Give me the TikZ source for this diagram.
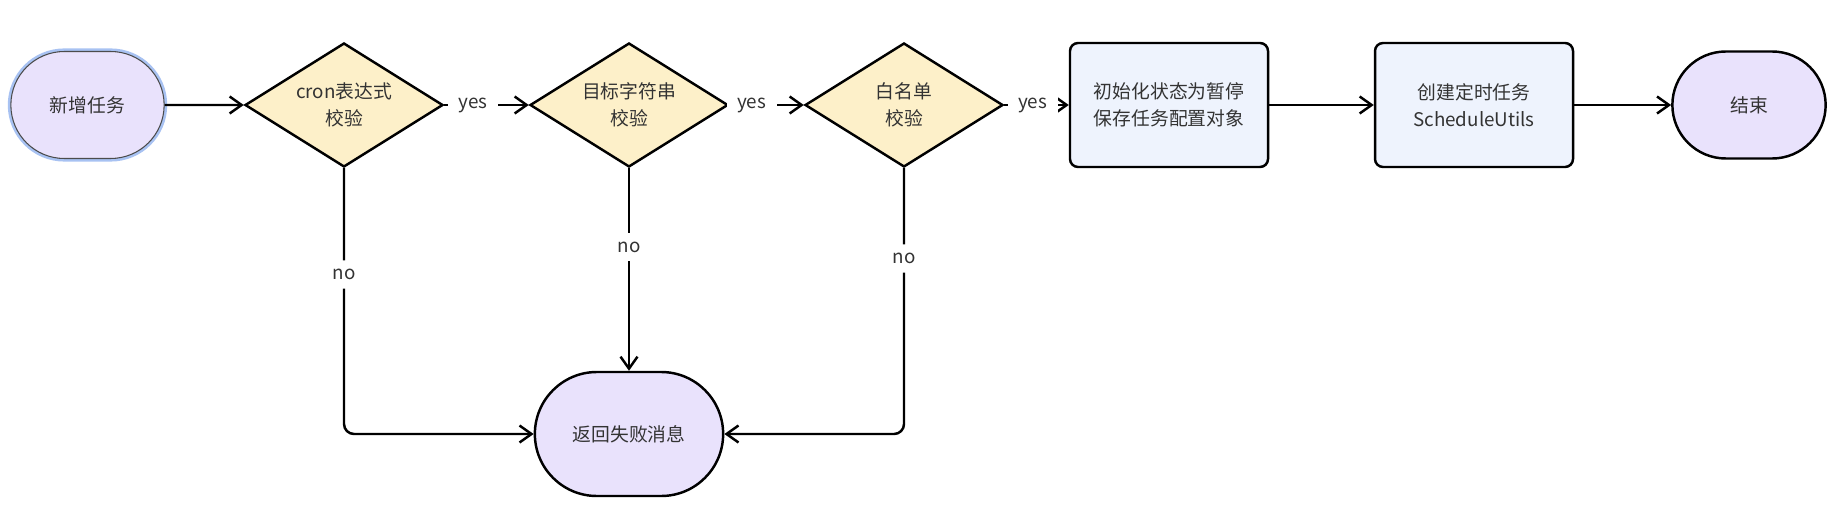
\documentclass[tikz,border=0pt]{standalone}
\usepackage{fontspec}
\setmainfont{Noto Sans CJK SC}
\usepackage{xcolor}
\usepackage{tikz}
\usetikzlibrary{shapes.geometric,shapes.misc,arrows.meta}
\definecolor{termfill}{HTML}{E9E2FC}
\definecolor{checkfill}{HTML}{FDF0C9}
\definecolor{procfill}{HTML}{EEF3FD}
\definecolor{halo}{HTML}{A8C2F2}
\definecolor{txt}{HTML}{333333}
\tikzstyle{arrow} = [-{Straight Barb[length=2.4mm,width=3.4mm]}, line width=1.4pt]
\tikzstyle{terminal} = [rounded rectangle, draw=black, line width=1.4pt, fill=termfill, minimum width=3.3cm, minimum height=2.14cm]
\tikzstyle{check} = [diamond, aspect=1.6, inner sep=0pt, draw=black, line width=1.4pt, fill=checkfill, minimum width=3.96cm, minimum height=2.48cm]
\tikzstyle{process} = [rectangle, rounded corners=0.16cm, draw=black, line width=1.4pt, fill=procfill, minimum width=3.96cm, minimum height=2.48cm]
\tikzstyle{answer} = [fill=white, inner xsep=6pt, inner ysep=5pt]

\begin{document}
\begin{tikzpicture}[node distance=5.5cm, every node/.style={text=txt, align=center, font=\fontsize{10.7}{15.4}\selectfont}]
		\useasboundingbox (0,0) rectangle (36.96,-10.34);

		\node (add) [terminal, draw=black!70, line width=0.6pt, preaction={draw=halo, line width=3.5pt}] at (1.75,-2.1) {新增任务};
		\node (cron) [check, right of=add, xshift=-0.37cm] {cron表达式\\校验};
		\node (target) [check, right of=cron, xshift=0.2cm] {目标字符串\\校验};
		\node (white) [check, right of=target] {白名单\\校验};
		\node (init) [process, right of=white, xshift=-0.2cm] {初始化状态为暂停\\保存任务配置对象};
		\node (create) [process, right of=init, xshift=0.6cm] {创建定时任务\\ScheduleUtils};
		\node (end) [terminal, right of=create] {结束};
		\node (fail) [terminal, minimum width=4cm, minimum height=2.48cm, below of=target, yshift=-1.08cm] {返回失败消息};

		\draw [arrow] (add) -- (cron);
		\draw [arrow] (cron) -- node[answer, pos=0.34] {yes} (target);
		\draw [arrow] (target) -- node[answer, pos=0.3] {yes} (white);
		\draw [arrow] (white) -- node[answer, pos=0.44] {yes} (init);
		\draw [arrow] (init) -- (create);
		\draw [arrow] (create) -- (end);

		\draw [arrow, rounded corners=0.2cm] (cron.south) |- node[answer, pos=0.2] {no} (fail.west);
		\draw [arrow] (target.south) -- node[answer, pos=0.39] {no} (fail.north);
		\draw [arrow, rounded corners=0.2cm] (white.south) |- node[answer, pos=0.17] {no} (fail.east);
	\end{tikzpicture}
\end{document}
